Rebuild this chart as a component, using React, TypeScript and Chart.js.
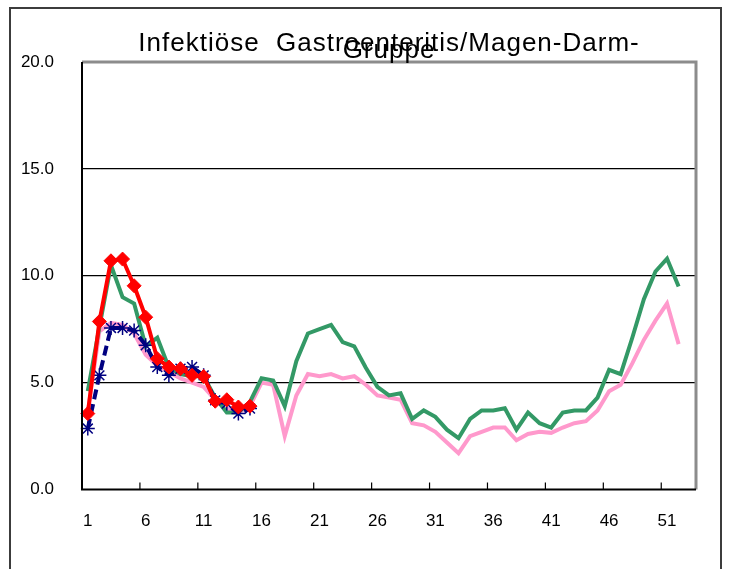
import React, { useEffect, useRef } from "react";
import { Chart, registerables } from "chart.js";

Chart.register(...registerables);

const weekLabels = [
  "1", "2", "3", "4", "5", "6", "7", "8", "9", "10",
  "11", "12", "13", "14", "15", "16", "17", "18", "19", "20",
  "21", "22", "23", "24", "25", "26", "27", "28", "29", "30",
  "31", "32", "33", "34", "35", "36", "37", "38", "39", "40",
  "41", "42", "43", "44", "45", "46", "47", "48", "49", "50",
  "51", "52", "53",
];

const titleLines = ["Infektiöse  Gastroenteritis/Magen-Darm-", "Gruppe"];

const greenSeries = [
  4.6, 7.6, 10.5, 9.0, 8.7, 6.7, 7.1, 5.7, 5.4, 5.3,
  5.3, 4.3, 3.6, 3.6, 4.1, 5.2, 5.1, 3.9, 6.0, 7.3,
  7.5, 7.7, 6.9, 6.7, 5.7, 4.8, 4.4, 4.5, 3.3, 3.7,
  3.4, 2.8, 2.4, 3.3, 3.7, 3.7, 3.8, 2.8, 3.6, 3.1,
  2.9, 3.6, 3.7, 3.7, 4.3, 5.6, 5.4, 7.1, 8.9, 10.2,
  10.8, 9.5,
];

const pinkSeries = [
  3.6, 7.4, 7.8, 7.7, 7.3, 6.3, 5.8, 5.5, 5.2, 5.0,
  4.8, 4.2, 3.8, 3.6, 3.9, 5.0, 4.9, 2.5, 4.4, 5.4,
  5.3, 5.4, 5.2, 5.3, 4.9, 4.4, 4.3, 4.2, 3.1, 3.0,
  2.7, 2.2, 1.7, 2.5, 2.7, 2.9, 2.9, 2.3, 2.6, 2.7,
  2.65, 2.9, 3.1, 3.2, 3.7, 4.6, 4.9, 5.9, 7.0, 7.9,
  8.7, 6.8,
];

const redSeries = [
  3.55, 7.86, 10.7, 10.78, 9.53, 8.06, 6.12, 5.73, 5.65, 5.34,
  5.29, 4.13, 4.2, 3.86, 3.9,
];

const blueSeries = [
  2.85, 5.34, 7.56, 7.56, 7.44, 6.75, 5.73, 5.34, 5.65, 5.73,
  5.34, 4.17, 4.02, 3.55, 3.79,
];

const yTicks = [0, 5, 10, 15, 20];
const labelEvery = 5;

const FONT = "'Liberation Sans', Arial, sans-serif";

const titleDraw = {
  id: "titleDraw",
  afterDraw(chart: any) {
    const { ctx, chartArea } = chart;
    const cx = (chartArea.left + chartArea.right) / 2;
    ctx.save();
    ctx.fillStyle = "#000";
    ctx.font = "26px " + FONT;
    try {
      (ctx as any).letterSpacing = "1px";
    } catch (e) {}
    ctx.textAlign = "center";
    ctx.textBaseline = "middle";
    ctx.fillText(titleLines[0], cx, chartArea.top - 18);
    ctx.fillText(titleLines[1], cx, chartArea.top - 11);
    ctx.restore();
  },
};

const plotDecor = {
  id: "plotDecor",
  afterDatasetsDraw(chart: any) {
    const { ctx, chartArea, scales } = chart;
    const x = scales.x;
    ctx.save();
    ctx.strokeStyle = "#8c8c8c";
    ctx.lineWidth = 3;
    ctx.beginPath();
    ctx.moveTo(chartArea.left, chartArea.top);
    ctx.lineTo(chartArea.right, chartArea.top);
    ctx.lineTo(chartArea.right, chartArea.bottom);
    ctx.stroke();
    ctx.strokeStyle = "#000";
    ctx.lineWidth = 2;
    ctx.beginPath();
    ctx.moveTo(chartArea.left, chartArea.top);
    ctx.lineTo(chartArea.left, chartArea.bottom);
    ctx.lineTo(chartArea.right, chartArea.bottom);
    ctx.stroke();
    ctx.lineWidth = 1.2;
    ctx.beginPath();
    for (let i = labelEvery; i < weekLabels.length; i += labelEvery) {
      const px = (x.getPixelForTick(i - 1) + x.getPixelForTick(i)) / 2;
      ctx.moveTo(px, chartArea.bottom);
      ctx.lineTo(px, chartArea.bottom - 7);
    }
    ctx.stroke();
    ctx.restore();
  },
};

export default function App() {
  const ref = useRef<HTMLCanvasElement | null>(null);

  useEffect(() => {
    if (!ref.current) return;
    const chart = new Chart(ref.current, {
      type: "line",
      data: {
        labels: weekLabels,
        datasets: [
          {
            label: "aktuell",
            data: redSeries,
            borderColor: "#ff0000",
            backgroundColor: "#ff0000",
            borderWidth: 4,
            pointStyle: "rectRot",
            pointRadius: 7,
            pointBorderWidth: 1,
            order: 0,
          },
          {
            label: "Vorjahr",
            data: blueSeries,
            borderColor: "#000080",
            backgroundColor: "#000080",
            borderWidth: 4,
            borderDash: [10, 5],
            pointStyle: "star",
            pointRadius: 7,
            pointBorderWidth: 1.5,
            order: 1,
          },
          {
            label: "Saison A",
            data: greenSeries,
            borderColor: "#339966",
            borderWidth: 4,
            pointRadius: 0,
            order: 2,
          },
          {
            label: "Saison B",
            data: pinkSeries,
            borderColor: "#ff99cc",
            borderWidth: 4,
            pointRadius: 0,
            order: 3,
          },
        ],
      },
      options: {
        animation: false,
        responsive: false,
        maintainAspectRatio: false,
        layout: { padding: { left: 0, right: 33, top: 62, bottom: 0 } },
        plugins: {
          legend: { display: false },
          tooltip: { enabled: false },
          title: { display: false },
        },
        scales: {
          x: {
            type: "category",
            offset: true,
            grid: { display: false, drawTicks: false },
            border: { display: false },
            afterFit(scale: any) {
              scale.height = 79.5;
            },
            ticks: {
              autoSkip: false,
              maxRotation: 0,
              minRotation: 0,
              padding: 22,
              color: "#000",
              font: { family: FONT, size: 17 },
              callback(_v: any, i: number) {
                return i % labelEvery === 0 ? weekLabels[i] : "";
              },
            },
          },
          y: {
            min: 0,
            max: 20,
            afterFit(scale: any) {
              scale.width = 82;
            },
            afterBuildTicks(scale: any) {
              scale.ticks = yTicks.map((v) => ({ value: v }));
            },
            grid: {
              drawTicks: false,
              color: (c: any) => (c.tick && c.tick.value > 0 && c.tick.value < 20 ? "#000" : "rgba(0,0,0,0)"),
              lineWidth: 1.2,
            },
            border: { display: false },
            ticks: {
              padding: 28,
              color: "#000",
              font: { family: FONT, size: 17 },
              callback(v: any) {
                return Number(v).toFixed(1);
              },
            },
          },
        },
      },
      plugins: [plotDecor, titleDraw],
    });
    return () => chart.destroy();
  }, []);

  return (
    <div style={{ position: "fixed", left: 0, top: 0, width: 729, height: 569, background: "#fff", overflow: "hidden" }}>
      <canvas ref={ref} width={729} height={569} style={{ position: "absolute", left: 0, top: 0, width: 729, height: 569 }} />
      <div
        style={{
          position: "absolute",
          left: 9,
          top: 7,
          width: 709,
          height: 620,
          border: "2px solid #3c3c3c",
          pointerEvents: "none",
        }}
      />
    </div>
  );
}
